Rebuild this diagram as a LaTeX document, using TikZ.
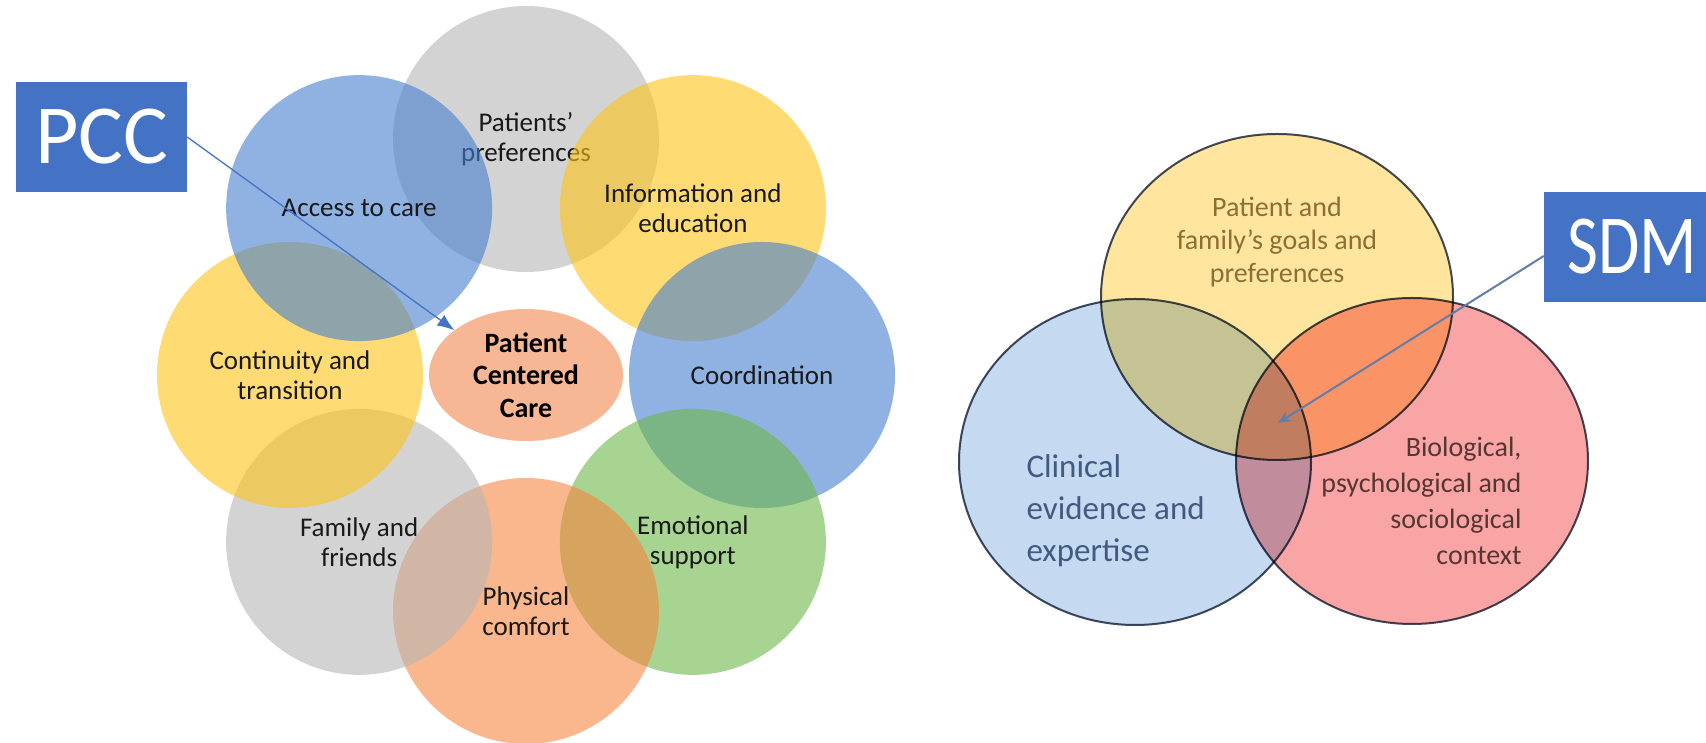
\documentclass[tikz,border=0pt]{standalone}
\usepackage{fontspec}
\setmainfont{Carlito}
\usetikzlibrary{shapes.geometric,arrows.meta}
\definecolor{bubblegray}{RGB}{182,182,182}
\definecolor{bubbleblue}{RGB}{68,127,207}
\definecolor{bubbleyellow}{RGB}{255,195,22}
\definecolor{bubblegreen}{RGB}{110,183,72}
\definecolor{bubbleorange}{RGB}{247,133,63}
\definecolor{hubfill}{RGB}{248,183,148}
\definecolor{tagblue}{RGB}{68,114,196}
\definecolor{vennyellow}{RGB}{255,229,158}
\definecolor{vennblue}{RGB}{197,217,240}
\definecolor{vennred}{RGB}{250,165,165}
\definecolor{vennline}{RGB}{65,75,95}
\definecolor{sdmline}{RGB}{100,125,168}
\definecolor{textgold}{RGB}{140,110,55}
\definecolor{textblue}{RGB}{65,90,130}
\definecolor{textbrown}{RGB}{85,55,50}
\tikzset{
        bubble/.style = {circle, minimum size=266pt, inner sep=0pt, fill opacity=0.6, text opacity=1, align=center, text={black!90}, font=\fontsize{27}{30}\selectfont},
        hub/.style = {ellipse, fill=hubfill, minimum width=194pt, minimum height=132pt, inner sep=0pt, align=center, font=\bfseries\fontsize{28}{32.5}\selectfont},
        tag/.style = {rectangle, fill=tagblue, text=white, minimum height=110pt, inner sep=0pt, font=\fontsize{84}{90}\selectfont},
        venn/.style = {ellipse, draw=vennline, line width=2pt, minimum width=352pt, minimum height=326pt, inner sep=0pt},
        pinline/.style = {draw=tagblue, line width=1.3pt, -{Latex[length=17pt,width=13pt]}},
        sdmline/.style = {draw=sdmline, line width=2pt, -{Stealth[length=13pt,width=11pt]}},
    }

\begin{document}
\begin{tikzpicture}[x=1pt, y=1pt]
    \path [use as bounding box, clip] (0,0) rectangle (1706,743);

    % patient centered care
    \node [hub] (hub) at (526,368) {Patient\\Centered\\Care};
    \node [bubble, fill=bubblegray] (pref) at ([shift={(90:236)}]hub) {Patients'\\preferences};
    \node [bubble, fill=bubbleyellow] (info) at ([shift={(45:236)}]hub) {Information and\\education};
    \node [bubble, fill=bubbleblue] (coord) at ([shift={(0:236)}]hub) {Coordination};
    \node [bubble, fill=bubblegreen] (emot) at ([shift={(-45:236)}]hub) {Emotional\\support};
    \node [bubble, fill=bubbleorange] (phys) at ([shift={(-90:236)}]hub) {Physical\\comfort};
    \node [bubble, fill=bubblegray] (family) at ([shift={(-135:236)}]hub) {Family and\\friends};
    \node [bubble, fill=bubbleyellow] (cont) at ([shift={(180:236)}]hub) {Continuity and\\transition};
    \node [bubble, fill=bubbleblue] (access) at ([shift={(135:236)}]hub) {Access to care};

    \node [tag, minimum width=171pt] (pcc) at (101.5,606) {PCC};
    \draw [pinline] (pcc.east) -- (hub.148);

    % shared decision making
    \begin{scope}[blend mode=multiply]
        \node [venn, fill=vennyellow] (goals) at (1277,446) {};
        \node [venn, fill=vennblue] (clinic) at (1135,281) {};
        \node [venn, fill=vennred] (context) at (1412,282) {};
    \end{scope}
    \node [align=center, text=textgold, font=\fontsize{28}{33}\selectfont] (goalstext) at (1277,501) {Patient and\\family's goals and\\preferences};
    \node [anchor=west, align=left, text=textblue, font=\fontsize{33}{42}\selectfont] (clinictext) at (1023,232) {Clinical\\evidence and\\expertise};
    \node [anchor=east, align=right, text=textbrown, font=\fontsize{28}{36}\selectfont] (contexttext) at (1525,242) {Biological,\\psychological and\\sociological\\context};

    \node [tag, minimum width=176pt] (sdm) at (1632,496) {\scalebox{0.8}[1]{SDM}};
    \coordinate (core) at (1278,320);
    \draw [sdmline] ([yshift=-9pt]sdm.west) -- (core);

\end{tikzpicture}
\end{document}
